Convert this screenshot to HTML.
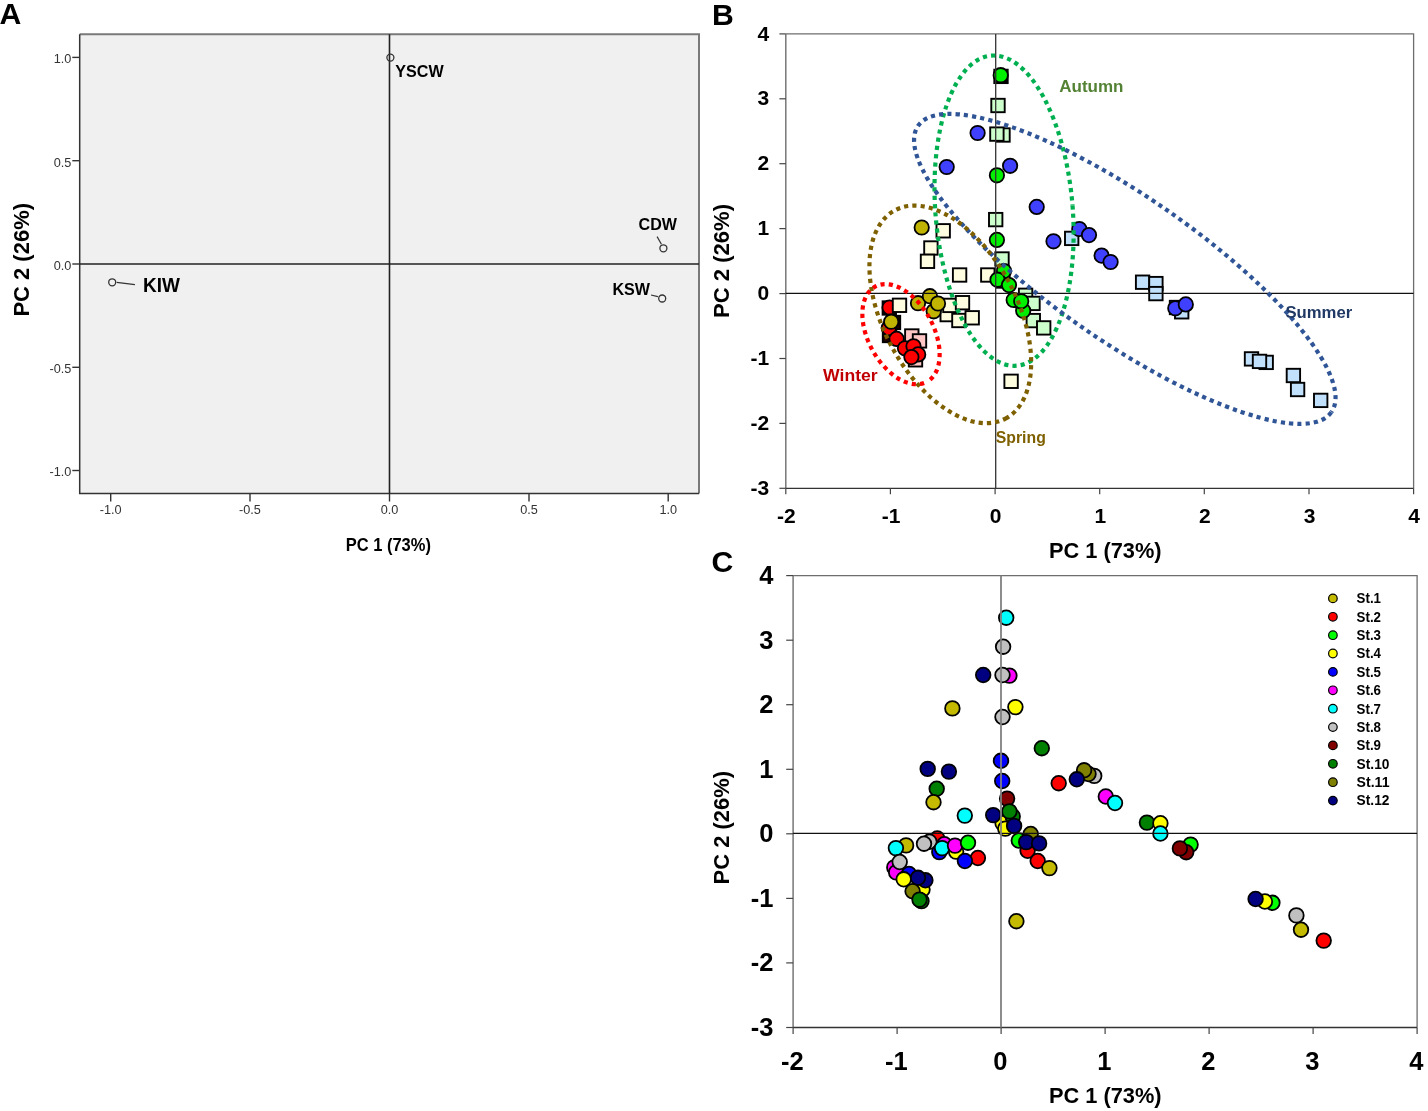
<!DOCTYPE html>
<html><head><meta charset="utf-8"><style>html,body{margin:0;padding:0;background:#fff;width:1428px;height:1111px;overflow:hidden;position:relative}</style></head><body>
<svg width="1428" height="1111" viewBox="0 0 1428 1111" style="position:absolute;left:0;top:0;font-family:'Liberation Sans', sans-serif;will-change:transform">
<rect x="0" y="0" width="1428" height="1111" fill="#fff"/>
<rect x="79.7" y="34.3" width="619.3" height="459.2" fill="#f0f0f0"/>
<path d="M79.7 34.3 H699.0 V493.5" fill="none" stroke="#7a7a7a" stroke-width="2"/>
<path d="M79.7 34.3 V493.5 H699.0" fill="none" stroke="#333" stroke-width="1.5"/>
<line x1="72.3" y1="57.4" x2="79.7" y2="57.4" stroke="#333" stroke-width="1.4"/>
<text x="71.4" y="63.199999999999996" font-size="12.7" font-weight="normal" fill="#333" text-anchor="end">1.0</text>
<line x1="72.3" y1="160.7" x2="79.7" y2="160.7" stroke="#333" stroke-width="1.4"/>
<text x="71.4" y="166.5" font-size="12.7" font-weight="normal" fill="#333" text-anchor="end">0.5</text>
<line x1="72.3" y1="264.0" x2="79.7" y2="264.0" stroke="#333" stroke-width="1.4"/>
<text x="71.4" y="269.8" font-size="12.7" font-weight="normal" fill="#333" text-anchor="end">0.0</text>
<line x1="72.3" y1="367.3" x2="79.7" y2="367.3" stroke="#333" stroke-width="1.4"/>
<text x="71.4" y="373.1" font-size="12.7" font-weight="normal" fill="#333" text-anchor="end">-0.5</text>
<line x1="72.3" y1="470.5" x2="79.7" y2="470.5" stroke="#333" stroke-width="1.4"/>
<text x="71.4" y="476.3" font-size="12.7" font-weight="normal" fill="#333" text-anchor="end">-1.0</text>
<line x1="110.7" y1="493.5" x2="110.7" y2="501.5" stroke="#333" stroke-width="1.4"/>
<text x="110.7" y="514.2" font-size="12.7" font-weight="normal" fill="#333" text-anchor="middle">-1.0</text>
<line x1="250.0" y1="493.5" x2="250.0" y2="501.5" stroke="#333" stroke-width="1.4"/>
<text x="250.0" y="514.2" font-size="12.7" font-weight="normal" fill="#333" text-anchor="middle">-0.5</text>
<line x1="389.5" y1="493.5" x2="389.5" y2="501.5" stroke="#333" stroke-width="1.4"/>
<text x="389.5" y="514.2" font-size="12.7" font-weight="normal" fill="#333" text-anchor="middle">0.0</text>
<line x1="529.0" y1="493.5" x2="529.0" y2="501.5" stroke="#333" stroke-width="1.4"/>
<text x="529.0" y="514.2" font-size="12.7" font-weight="normal" fill="#333" text-anchor="middle">0.5</text>
<line x1="668.2" y1="493.5" x2="668.2" y2="501.5" stroke="#333" stroke-width="1.4"/>
<text x="668.2" y="514.2" font-size="12.7" font-weight="normal" fill="#333" text-anchor="middle">1.0</text>
<line x1="79.7" y1="264.0" x2="699.0" y2="264.0" stroke="#222" stroke-width="1.6"/>
<line x1="389.5" y1="34.3" x2="389.5" y2="493.5" stroke="#222" stroke-width="1.6"/>
<line x1="657.1" y1="236.6" x2="661.4" y2="244.3" stroke="#333" stroke-width="1.2"/>
<line x1="651" y1="295" x2="657.9" y2="296.7" stroke="#333" stroke-width="1.2"/>
<line x1="116.7" y1="282.3" x2="134.9" y2="284.7" stroke="#333" stroke-width="1.2"/>
<circle cx="390.4" cy="57.6" r="3.5" fill="none" stroke="#333" stroke-width="1.3"/>
<circle cx="663.4" cy="248.3" r="3.5" fill="none" stroke="#333" stroke-width="1.3"/>
<circle cx="662.2" cy="298.5" r="3.5" fill="none" stroke="#333" stroke-width="1.3"/>
<circle cx="112.2" cy="282.3" r="3.5" fill="none" stroke="#333" stroke-width="1.3"/>
<text x="395.3" y="77.4" font-size="16.6" font-weight="bold" fill="#000" text-anchor="start" textLength="48.3" lengthAdjust="spacingAndGlyphs">YSCW</text>
<text x="638.6" y="229.7" font-size="16.6" font-weight="bold" fill="#000" text-anchor="start" textLength="38.4" lengthAdjust="spacingAndGlyphs">CDW</text>
<text x="612.4" y="294.7" font-size="16.6" font-weight="bold" fill="#000" text-anchor="start" textLength="37.6" lengthAdjust="spacingAndGlyphs">KSW</text>
<text x="143.0" y="291.8" font-size="19.5" font-weight="bold" fill="#000" text-anchor="start" textLength="36.9" lengthAdjust="spacingAndGlyphs">KIW</text>
<text x="345.7" y="550.6" font-size="17.5" font-weight="bold" fill="#000" text-anchor="start" textLength="85.2" lengthAdjust="spacingAndGlyphs">PC 1 (73%)</text>
<text x="0" y="0" font-size="22.5" font-weight="bold" textLength="113.6" lengthAdjust="spacingAndGlyphs" transform="translate(29.2 316.6) rotate(-90)">PC 2 (26%)</text>
<text x="-0.6" y="24.2" font-size="30.2" font-weight="bold" fill="#000" text-anchor="start">A</text>
<path d="M785.8 33.9 H1413.6 V488.3" fill="none" stroke="#6e6e6e" stroke-width="1.3"/>
<path d="M785.8 33.9 V488.3" fill="none" stroke="#777" stroke-width="1.5"/>
<line x1="785.8" y1="488.3" x2="1413.6" y2="488.3" stroke="#333" stroke-width="1.3"/>
<line x1="779.4" y1="33.9" x2="785.8" y2="33.9" stroke="#444" stroke-width="1.2"/>
<text x="769.2" y="40.5" font-size="21" font-weight="bold" fill="#000" text-anchor="end">4</text>
<line x1="779.4" y1="98.8" x2="785.8" y2="98.8" stroke="#444" stroke-width="1.2"/>
<text x="769.2" y="105.41428571428571" font-size="21" font-weight="bold" fill="#000" text-anchor="end">3</text>
<line x1="779.4" y1="163.7" x2="785.8" y2="163.7" stroke="#444" stroke-width="1.2"/>
<text x="769.2" y="170.32857142857145" font-size="21" font-weight="bold" fill="#000" text-anchor="end">2</text>
<line x1="779.4" y1="228.6" x2="785.8" y2="228.6" stroke="#444" stroke-width="1.2"/>
<text x="769.2" y="235.2428571428572" font-size="21" font-weight="bold" fill="#000" text-anchor="end">1</text>
<line x1="779.4" y1="293.6" x2="785.8" y2="293.6" stroke="#444" stroke-width="1.2"/>
<text x="769.2" y="300.1571428571429" font-size="21" font-weight="bold" fill="#000" text-anchor="end">0</text>
<line x1="779.4" y1="358.5" x2="785.8" y2="358.5" stroke="#444" stroke-width="1.2"/>
<text x="769.2" y="365.0714285714286" font-size="21" font-weight="bold" fill="#000" text-anchor="end">-1</text>
<line x1="779.4" y1="423.4" x2="785.8" y2="423.4" stroke="#444" stroke-width="1.2"/>
<text x="769.2" y="429.9857142857144" font-size="21" font-weight="bold" fill="#000" text-anchor="end">-2</text>
<line x1="779.4" y1="488.3" x2="785.8" y2="488.3" stroke="#444" stroke-width="1.2"/>
<text x="769.2" y="494.9000000000001" font-size="21" font-weight="bold" fill="#000" text-anchor="end">-3</text>
<line x1="785.8" y1="488.3" x2="785.8" y2="494.2" stroke="#444" stroke-width="1.2"/>
<text x="786.4" y="523.2" font-size="21" font-weight="bold" fill="#000" text-anchor="middle">-2</text>
<line x1="890.4" y1="488.3" x2="890.4" y2="494.2" stroke="#444" stroke-width="1.2"/>
<text x="891.0333333333333" y="523.2" font-size="21" font-weight="bold" fill="#000" text-anchor="middle">-1</text>
<line x1="995.1" y1="488.3" x2="995.1" y2="494.2" stroke="#444" stroke-width="1.2"/>
<text x="995.6666666666666" y="523.2" font-size="21" font-weight="bold" fill="#000" text-anchor="middle">0</text>
<line x1="1099.7" y1="488.3" x2="1099.7" y2="494.2" stroke="#444" stroke-width="1.2"/>
<text x="1100.2999999999997" y="523.2" font-size="21" font-weight="bold" fill="#000" text-anchor="middle">1</text>
<line x1="1204.3" y1="488.3" x2="1204.3" y2="494.2" stroke="#444" stroke-width="1.2"/>
<text x="1204.9333333333332" y="523.2" font-size="21" font-weight="bold" fill="#000" text-anchor="middle">2</text>
<line x1="1309.0" y1="488.3" x2="1309.0" y2="494.2" stroke="#444" stroke-width="1.2"/>
<text x="1309.5666666666666" y="523.2" font-size="21" font-weight="bold" fill="#000" text-anchor="middle">3</text>
<line x1="1413.6" y1="488.3" x2="1413.6" y2="494.2" stroke="#444" stroke-width="1.2"/>
<text x="1414.1999999999998" y="523.2" font-size="21" font-weight="bold" fill="#000" text-anchor="middle">4</text>
<rect x="882.6" y="301.3" width="13.4" height="13.4" fill="#200" stroke="#000" stroke-width="1.9"/>
<rect x="886.8" y="315.8" width="13.4" height="13.4" fill="#200" stroke="#000" stroke-width="1.9"/>
<rect x="882.8" y="328.8" width="13.4" height="13.4" fill="#200" stroke="#000" stroke-width="1.9"/>
<rect x="905.1" y="329.3" width="13.4" height="13.4" fill="#ffc6c6" stroke="#000" stroke-width="1.9"/>
<rect x="912.8" y="334.2" width="13.4" height="13.4" fill="#ffc6c6" stroke="#000" stroke-width="1.9"/>
<rect x="908.8" y="353.1" width="13.4" height="13.4" fill="#ffc6c6" stroke="#000" stroke-width="1.9"/>
<rect x="936.5" y="224.1" width="13.4" height="13.4" fill="#fffde0" stroke="#000" stroke-width="1.9"/>
<rect x="924.2" y="241.3" width="13.4" height="13.4" fill="#fffde0" stroke="#000" stroke-width="1.9"/>
<rect x="920.8" y="254.6" width="13.4" height="13.4" fill="#fffde0" stroke="#000" stroke-width="1.9"/>
<rect x="952.9" y="268.3" width="13.4" height="13.4" fill="#fffde0" stroke="#000" stroke-width="1.9"/>
<rect x="981.1" y="268.3" width="13.4" height="13.4" fill="#fffde0" stroke="#000" stroke-width="1.9"/>
<rect x="940.5" y="307.9" width="13.4" height="13.4" fill="#fffde0" stroke="#000" stroke-width="1.9"/>
<rect x="943.2" y="298.7" width="13.4" height="13.4" fill="#fffde0" stroke="#000" stroke-width="1.9"/>
<rect x="955.8" y="296.0" width="13.4" height="13.4" fill="#fffde0" stroke="#000" stroke-width="1.9"/>
<rect x="952.2" y="313.8" width="13.4" height="13.4" fill="#fffde0" stroke="#000" stroke-width="1.9"/>
<rect x="965.5" y="311.1" width="13.4" height="13.4" fill="#fffde0" stroke="#000" stroke-width="1.9"/>
<rect x="1004.4" y="374.6" width="13.4" height="13.4" fill="#fffde0" stroke="#000" stroke-width="1.9"/>
<rect x="994.3" y="69.7" width="13.4" height="13.4" fill="#000" stroke="#000" stroke-width="1.9"/>
<rect x="991.3" y="98.8" width="13.4" height="13.4" fill="#ccffcc" stroke="#000" stroke-width="1.9"/>
<rect x="996.3" y="128.3" width="13.4" height="13.4" fill="#ccffcc" stroke="#000" stroke-width="1.9"/>
<rect x="990.2" y="127.4" width="13.4" height="13.4" fill="#ccffcc" stroke="#000" stroke-width="1.9"/>
<rect x="989.0" y="212.9" width="13.4" height="13.4" fill="#ccffcc" stroke="#000" stroke-width="1.9"/>
<rect x="995.3" y="252.3" width="13.4" height="13.4" fill="#ccffcc" stroke="#000" stroke-width="1.9"/>
<rect x="996.3" y="274.3" width="13.4" height="13.4" fill="#ccffcc" stroke="#000" stroke-width="1.9"/>
<rect x="1018.9" y="288.6" width="13.4" height="13.4" fill="#ccffcc" stroke="#000" stroke-width="1.9"/>
<rect x="1026.3" y="296.7" width="13.4" height="13.4" fill="#ccffcc" stroke="#000" stroke-width="1.9"/>
<rect x="1026.6" y="313.9" width="13.4" height="13.4" fill="#ccffcc" stroke="#000" stroke-width="1.9"/>
<rect x="1037.0" y="321.2" width="13.4" height="13.4" fill="#ccffcc" stroke="#000" stroke-width="1.9"/>
<rect x="1065.0" y="231.7" width="13.4" height="13.4" fill="#c0e0fb" stroke="#000" stroke-width="1.9"/>
<rect x="1169.8" y="300.8" width="13.4" height="13.4" fill="#c0e0fb" stroke="#000" stroke-width="1.9"/>
<rect x="1135.9" y="275.5" width="13.4" height="13.4" fill="#c0e0fb" stroke="#000" stroke-width="1.9"/>
<rect x="1149.2" y="276.9" width="13.4" height="13.4" fill="#c0e0fb" stroke="#000" stroke-width="1.9"/>
<rect x="1149.2" y="286.9" width="13.4" height="13.4" fill="#c0e0fb" stroke="#000" stroke-width="1.9"/>
<rect x="1175.0" y="305.1" width="13.4" height="13.4" fill="#c0e0fb" stroke="#000" stroke-width="1.9"/>
<rect x="1244.8" y="352.2" width="13.4" height="13.4" fill="#c0e0fb" stroke="#000" stroke-width="1.9"/>
<rect x="1259.5" y="355.7" width="13.4" height="13.4" fill="#c0e0fb" stroke="#000" stroke-width="1.9"/>
<rect x="1252.8" y="354.7" width="13.4" height="13.4" fill="#c0e0fb" stroke="#000" stroke-width="1.9"/>
<rect x="1286.7" y="368.8" width="13.4" height="13.4" fill="#c0e0fb" stroke="#000" stroke-width="1.9"/>
<rect x="1290.9" y="382.8" width="13.4" height="13.4" fill="#c0e0fb" stroke="#000" stroke-width="1.9"/>
<rect x="1314.0" y="393.7" width="13.4" height="13.4" fill="#c0e0fb" stroke="#000" stroke-width="1.9"/>
<circle cx="889.6" cy="307.5" r="7.2" fill="#ff0000" stroke="#000" stroke-width="1.8"/>
<circle cx="888.8" cy="328.1" r="7.2" fill="#ff0000" stroke="#000" stroke-width="1.8"/>
<circle cx="891.2" cy="321.7" r="7.2" fill="#c0b400" stroke="#000" stroke-width="1.8"/>
<circle cx="896.6" cy="338.9" r="7.2" fill="#ff0000" stroke="#000" stroke-width="1.8"/>
<circle cx="905" cy="348.3" r="7.2" fill="#ff0000" stroke="#000" stroke-width="1.8"/>
<circle cx="913.5" cy="346.3" r="7.2" fill="#ff0000" stroke="#000" stroke-width="1.8"/>
<circle cx="918.2" cy="354.4" r="7.2" fill="#ff0000" stroke="#000" stroke-width="1.8"/>
<circle cx="911.4" cy="357.1" r="7.2" fill="#ff0000" stroke="#000" stroke-width="1.8"/>
<circle cx="921.7" cy="227.5" r="7.2" fill="#c0b400" stroke="#000" stroke-width="1.8"/>
<circle cx="918" cy="303.2" r="7.2" fill="#c0b400" stroke="#000" stroke-width="1.8"/>
<circle cx="929.9" cy="296.2" r="7.2" fill="#c0b400" stroke="#000" stroke-width="1.8"/>
<circle cx="933.7" cy="311.3" r="7.2" fill="#c0b400" stroke="#000" stroke-width="1.8"/>
<circle cx="938" cy="303.5" r="7.2" fill="#c0b400" stroke="#000" stroke-width="1.8"/>
<circle cx="1000.7" cy="75.2" r="7.2" fill="#00f000" stroke="#000" stroke-width="1.8"/>
<circle cx="996.9" cy="175.3" r="7.2" fill="#00f000" stroke="#000" stroke-width="1.8"/>
<circle cx="996.9" cy="239.9" r="7.2" fill="#00f000" stroke="#000" stroke-width="1.8"/>
<circle cx="1004" cy="271" r="7.2" fill="#00f000" stroke="#000" stroke-width="1.8"/>
<circle cx="997.5" cy="279.7" r="7.2" fill="#00f000" stroke="#000" stroke-width="1.8"/>
<circle cx="1009" cy="285.1" r="7.2" fill="#00f000" stroke="#000" stroke-width="1.8"/>
<circle cx="1013.7" cy="300" r="7.2" fill="#00f000" stroke="#000" stroke-width="1.8"/>
<circle cx="1023.2" cy="310.8" r="7.2" fill="#00f000" stroke="#000" stroke-width="1.8"/>
<circle cx="1021.2" cy="301.3" r="7.2" fill="#00f000" stroke="#000" stroke-width="1.8"/>
<circle cx="977.6" cy="133" r="7.2" fill="#4040ff" stroke="#000" stroke-width="1.8"/>
<circle cx="946.7" cy="167" r="7.2" fill="#4040ff" stroke="#000" stroke-width="1.8"/>
<circle cx="1010.1" cy="165.8" r="7.2" fill="#4040ff" stroke="#000" stroke-width="1.8"/>
<circle cx="1036.7" cy="206.9" r="7.2" fill="#4040ff" stroke="#000" stroke-width="1.8"/>
<circle cx="1053.5" cy="241.3" r="7.2" fill="#4040ff" stroke="#000" stroke-width="1.8"/>
<circle cx="1079.3" cy="229" r="7.2" fill="#4040ff" stroke="#000" stroke-width="1.8"/>
<circle cx="1089" cy="235.1" r="7.2" fill="#4040ff" stroke="#000" stroke-width="1.8"/>
<circle cx="1101.6" cy="255.6" r="7.2" fill="#4040ff" stroke="#000" stroke-width="1.8"/>
<circle cx="1110.6" cy="262" r="7.2" fill="#4040ff" stroke="#000" stroke-width="1.8"/>
<circle cx="1175.3" cy="308.3" r="7.2" fill="#4040ff" stroke="#000" stroke-width="1.8"/>
<circle cx="1185.8" cy="304.4" r="7.2" fill="#4040ff" stroke="#000" stroke-width="1.8"/>
<rect x="892.8" y="298.6" width="13.4" height="13.4" fill="#fffde0" stroke="#000" stroke-width="1.9"/>
<line x1="785.8" y1="293.3" x2="1413.6" y2="293.3" stroke="#111" stroke-width="1.3"/>
<line x1="995.7" y1="33.9" x2="995.7" y2="488.3" stroke="#333" stroke-width="1.3"/>
<ellipse cx="1004.07" cy="210.65" rx="68.63" ry="155.55" transform="rotate(-4.67 1004.07 210.65)" stroke="#00b050" stroke-dashoffset="7.9" stroke-width="4.2" stroke-dasharray="4.2 4.09" fill="none"/>
<ellipse cx="1124.8" cy="268.9" rx="251.4" ry="72.3" transform="rotate(34.7 1124.8 268.9)" stroke="#2f5597" stroke-dashoffset="7.9" stroke-width="4.2" stroke-dasharray="4.2 4.09" fill="none"/>
<ellipse cx="950.3" cy="314.4" rx="117.9" ry="66.9" transform="rotate(62.1 950.3 314.4)" stroke="#7f6000" stroke-dashoffset="1.45" stroke-width="4.2" stroke-dasharray="4.2 4.09" fill="none"/>
<ellipse cx="901.0" cy="334.2" rx="54.15" ry="32.7" transform="rotate(61.5 901.0 334.2)" stroke="#ff0000" stroke-dashoffset="5.2" stroke-width="4.2" stroke-dasharray="4.2 4.09" fill="none"/>
<text x="1059.3" y="92.0" font-size="17" font-weight="bold" fill="#548235" text-anchor="start" textLength="64.2" lengthAdjust="spacingAndGlyphs">Autumn</text>
<text x="1285.4" y="317.7" font-size="17" font-weight="bold" fill="#203864" text-anchor="start" textLength="66.8" lengthAdjust="spacingAndGlyphs">Summer</text>
<text x="823.1" y="381.1" font-size="17" font-weight="bold" fill="#c00000" text-anchor="start" textLength="54.6" lengthAdjust="spacingAndGlyphs">Winter</text>
<text x="995.8" y="442.7" font-size="17" font-weight="bold" fill="#7f6000" text-anchor="start" textLength="50.0" lengthAdjust="spacingAndGlyphs">Spring</text>
<text x="1049.0" y="558.4" font-size="22" font-weight="bold" fill="#000" text-anchor="start" textLength="112.6" lengthAdjust="spacingAndGlyphs">PC 1 (73%)</text>
<text x="0" y="0" font-size="22.5" font-weight="bold" textLength="114.0" lengthAdjust="spacingAndGlyphs" transform="translate(729.0 318.0) rotate(-90)">PC 2 (26%)</text>
<text x="712.0" y="24.6" font-size="30.2" font-weight="bold" fill="#000" text-anchor="start">B</text>
<path d="M793.1 575.6 H1417.1 V1027.5" fill="none" stroke="#6e6e6e" stroke-width="1.3"/>
<path d="M793.1 575.6 V1027.5" fill="none" stroke="#777" stroke-width="1.5"/>
<line x1="793.1" y1="1027.5" x2="1417.1" y2="1027.5" stroke="#333" stroke-width="1.3"/>
<line x1="786.2" y1="575.6" x2="793.1" y2="575.6" stroke="#444" stroke-width="1.2"/>
<text x="773.4" y="584.0" font-size="25.5" font-weight="bold" fill="#000" text-anchor="end">4</text>
<line x1="786.2" y1="640.2" x2="793.1" y2="640.2" stroke="#444" stroke-width="1.2"/>
<text x="773.4" y="648.5571428571428" font-size="25.5" font-weight="bold" fill="#000" text-anchor="end">3</text>
<line x1="786.2" y1="704.7" x2="793.1" y2="704.7" stroke="#444" stroke-width="1.2"/>
<text x="773.4" y="713.1142857142858" font-size="25.5" font-weight="bold" fill="#000" text-anchor="end">2</text>
<line x1="786.2" y1="769.3" x2="793.1" y2="769.3" stroke="#444" stroke-width="1.2"/>
<text x="773.4" y="777.6714285714286" font-size="25.5" font-weight="bold" fill="#000" text-anchor="end">1</text>
<line x1="786.2" y1="833.8" x2="793.1" y2="833.8" stroke="#444" stroke-width="1.2"/>
<text x="773.4" y="842.2285714285714" font-size="25.5" font-weight="bold" fill="#000" text-anchor="end">0</text>
<line x1="786.2" y1="898.4" x2="793.1" y2="898.4" stroke="#444" stroke-width="1.2"/>
<text x="773.4" y="906.7857142857142" font-size="25.5" font-weight="bold" fill="#000" text-anchor="end">-1</text>
<line x1="786.2" y1="962.9" x2="793.1" y2="962.9" stroke="#444" stroke-width="1.2"/>
<text x="773.4" y="971.342857142857" font-size="25.5" font-weight="bold" fill="#000" text-anchor="end">-2</text>
<line x1="786.2" y1="1027.5" x2="793.1" y2="1027.5" stroke="#444" stroke-width="1.2"/>
<text x="773.4" y="1035.9" font-size="25.5" font-weight="bold" fill="#000" text-anchor="end">-3</text>
<line x1="793.1" y1="1027.5" x2="793.1" y2="1033.9" stroke="#444" stroke-width="1.2"/>
<text x="792.3000000000001" y="1070.0" font-size="25.5" font-weight="bold" fill="#000" text-anchor="middle">-2</text>
<line x1="897.1" y1="1027.5" x2="897.1" y2="1033.9" stroke="#444" stroke-width="1.2"/>
<text x="896.3000000000001" y="1070.0" font-size="25.5" font-weight="bold" fill="#000" text-anchor="middle">-1</text>
<line x1="1001.1" y1="1027.5" x2="1001.1" y2="1033.9" stroke="#444" stroke-width="1.2"/>
<text x="1000.3000000000001" y="1070.0" font-size="25.5" font-weight="bold" fill="#000" text-anchor="middle">0</text>
<line x1="1105.1" y1="1027.5" x2="1105.1" y2="1033.9" stroke="#444" stroke-width="1.2"/>
<text x="1104.3" y="1070.0" font-size="25.5" font-weight="bold" fill="#000" text-anchor="middle">1</text>
<line x1="1209.1" y1="1027.5" x2="1209.1" y2="1033.9" stroke="#444" stroke-width="1.2"/>
<text x="1208.3" y="1070.0" font-size="25.5" font-weight="bold" fill="#000" text-anchor="middle">2</text>
<line x1="1313.1" y1="1027.5" x2="1313.1" y2="1033.9" stroke="#444" stroke-width="1.2"/>
<text x="1312.3" y="1070.0" font-size="25.5" font-weight="bold" fill="#000" text-anchor="middle">3</text>
<line x1="1417.1" y1="1027.5" x2="1417.1" y2="1033.9" stroke="#444" stroke-width="1.2"/>
<text x="1416.3" y="1070.0" font-size="25.5" font-weight="bold" fill="#000" text-anchor="middle">4</text>
<circle cx="1006.2" cy="617.7" r="7.3" fill="#00ffff" stroke="#000" stroke-width="1.8"/>
<circle cx="1003.1" cy="646.7" r="7.3" fill="#c0c0c0" stroke="#000" stroke-width="1.8"/>
<circle cx="983.2" cy="675" r="7.3" fill="#000080" stroke="#000" stroke-width="1.8"/>
<circle cx="1009.4" cy="675.6" r="7.3" fill="#ff00ff" stroke="#000" stroke-width="1.8"/>
<circle cx="1002.5" cy="675" r="7.3" fill="#c0c0c0" stroke="#000" stroke-width="1.8"/>
<circle cx="952.4" cy="708.4" r="7.3" fill="#c4bb00" stroke="#000" stroke-width="1.8"/>
<circle cx="1015.4" cy="707.1" r="7.3" fill="#ffff00" stroke="#000" stroke-width="1.8"/>
<circle cx="1002.5" cy="717" r="7.3" fill="#c0c0c0" stroke="#000" stroke-width="1.8"/>
<circle cx="927.7" cy="768.9" r="7.3" fill="#000080" stroke="#000" stroke-width="1.8"/>
<circle cx="948.9" cy="771.6" r="7.3" fill="#000080" stroke="#000" stroke-width="1.8"/>
<circle cx="936.7" cy="788.7" r="7.3" fill="#008000" stroke="#000" stroke-width="1.8"/>
<circle cx="933.5" cy="802.2" r="7.3" fill="#c4bb00" stroke="#000" stroke-width="1.8"/>
<circle cx="964.8" cy="815.6" r="7.3" fill="#00ffff" stroke="#000" stroke-width="1.8"/>
<circle cx="1001" cy="760.8" r="7.3" fill="#0000ff" stroke="#000" stroke-width="1.8"/>
<circle cx="1002.2" cy="781" r="7.3" fill="#0000ff" stroke="#000" stroke-width="1.8"/>
<circle cx="1007.1" cy="798.6" r="7.3" fill="#800000" stroke="#000" stroke-width="1.8"/>
<circle cx="1002.6" cy="823.2" r="7.3" fill="#ffff00" stroke="#000" stroke-width="1.8"/>
<circle cx="1005.3" cy="828.6" r="7.3" fill="#ffff00" stroke="#000" stroke-width="1.8"/>
<circle cx="993.2" cy="815.1" r="7.3" fill="#000080" stroke="#000" stroke-width="1.8"/>
<circle cx="1012.7" cy="816.4" r="7.3" fill="#008000" stroke="#000" stroke-width="1.8"/>
<circle cx="1009.4" cy="811.4" r="7.3" fill="#008000" stroke="#000" stroke-width="1.8"/>
<circle cx="1014.1" cy="825.9" r="7.3" fill="#000080" stroke="#000" stroke-width="1.8"/>
<circle cx="1030.7" cy="834" r="7.3" fill="#808000" stroke="#000" stroke-width="1.8"/>
<circle cx="1018.8" cy="840.5" r="7.3" fill="#00ff00" stroke="#000" stroke-width="1.8"/>
<circle cx="1027.6" cy="850.8" r="7.3" fill="#ff0000" stroke="#000" stroke-width="1.8"/>
<circle cx="1026.2" cy="842.1" r="7.3" fill="#000080" stroke="#000" stroke-width="1.8"/>
<circle cx="1039.1" cy="843.4" r="7.3" fill="#000080" stroke="#000" stroke-width="1.8"/>
<circle cx="1037.7" cy="861" r="7.3" fill="#ff0000" stroke="#000" stroke-width="1.8"/>
<circle cx="1049.4" cy="868.1" r="7.3" fill="#c4bb00" stroke="#000" stroke-width="1.8"/>
<circle cx="1041.8" cy="748.2" r="7.3" fill="#008000" stroke="#000" stroke-width="1.8"/>
<circle cx="1058.7" cy="783.2" r="7.3" fill="#ff0000" stroke="#000" stroke-width="1.8"/>
<circle cx="1094.2" cy="775.9" r="7.3" fill="#c0c0c0" stroke="#000" stroke-width="1.8"/>
<circle cx="1088.5" cy="774" r="7.3" fill="#808000" stroke="#000" stroke-width="1.8"/>
<circle cx="1084.1" cy="770.3" r="7.3" fill="#808000" stroke="#000" stroke-width="1.8"/>
<circle cx="1076.8" cy="779.3" r="7.3" fill="#000080" stroke="#000" stroke-width="1.8"/>
<circle cx="1105.8" cy="796.5" r="7.3" fill="#ff00ff" stroke="#000" stroke-width="1.8"/>
<circle cx="1115" cy="803" r="7.3" fill="#00ffff" stroke="#000" stroke-width="1.8"/>
<circle cx="1146.9" cy="822.6" r="7.3" fill="#008000" stroke="#000" stroke-width="1.8"/>
<circle cx="1160.4" cy="823.2" r="7.3" fill="#ffff00" stroke="#000" stroke-width="1.8"/>
<circle cx="1160.4" cy="833.5" r="7.3" fill="#00ffff" stroke="#000" stroke-width="1.8"/>
<circle cx="1190.6" cy="844.6" r="7.3" fill="#00ff00" stroke="#000" stroke-width="1.8"/>
<circle cx="1186.2" cy="852.2" r="7.3" fill="#800000" stroke="#000" stroke-width="1.8"/>
<circle cx="1179.9" cy="848.4" r="7.3" fill="#800000" stroke="#000" stroke-width="1.8"/>
<circle cx="1272.4" cy="902.8" r="7.3" fill="#00ff00" stroke="#000" stroke-width="1.8"/>
<circle cx="1264.9" cy="901.5" r="7.3" fill="#ffff00" stroke="#000" stroke-width="1.8"/>
<circle cx="1255.6" cy="899" r="7.3" fill="#000080" stroke="#000" stroke-width="1.8"/>
<circle cx="1296.4" cy="915.4" r="7.3" fill="#c0c0c0" stroke="#000" stroke-width="1.8"/>
<circle cx="1301" cy="929.7" r="7.3" fill="#c4bb00" stroke="#000" stroke-width="1.8"/>
<circle cx="1323.7" cy="940.6" r="7.3" fill="#ff0000" stroke="#000" stroke-width="1.8"/>
<circle cx="1016.4" cy="921.2" r="7.3" fill="#c4bb00" stroke="#000" stroke-width="1.8"/>
<circle cx="937.3" cy="838.5" r="7.3" fill="#ff0000" stroke="#000" stroke-width="1.8"/>
<circle cx="929.4" cy="841.7" r="7.3" fill="#c0c0c0" stroke="#000" stroke-width="1.8"/>
<circle cx="924" cy="843.7" r="7.3" fill="#c0c0c0" stroke="#000" stroke-width="1.8"/>
<circle cx="906.1" cy="845.4" r="7.3" fill="#c4bb00" stroke="#000" stroke-width="1.8"/>
<circle cx="895.9" cy="848.1" r="7.3" fill="#00ffff" stroke="#000" stroke-width="1.8"/>
<circle cx="939.3" cy="852.1" r="7.3" fill="#0000ff" stroke="#000" stroke-width="1.8"/>
<circle cx="944.3" cy="844.2" r="7.3" fill="#ff00ff" stroke="#000" stroke-width="1.8"/>
<circle cx="942.1" cy="848.1" r="7.3" fill="#00ffff" stroke="#000" stroke-width="1.8"/>
<circle cx="956.1" cy="851.6" r="7.3" fill="#ffff00" stroke="#000" stroke-width="1.8"/>
<circle cx="955" cy="845.6" r="7.3" fill="#ff00ff" stroke="#000" stroke-width="1.8"/>
<circle cx="968" cy="842.7" r="7.3" fill="#00ff00" stroke="#000" stroke-width="1.8"/>
<circle cx="977.9" cy="858" r="7.3" fill="#ff0000" stroke="#000" stroke-width="1.8"/>
<circle cx="964.9" cy="861" r="7.3" fill="#0000ff" stroke="#000" stroke-width="1.8"/>
<circle cx="894.3" cy="867.4" r="7.3" fill="#ff00ff" stroke="#000" stroke-width="1.8"/>
<circle cx="896.2" cy="872.4" r="7.3" fill="#ff00ff" stroke="#000" stroke-width="1.8"/>
<circle cx="899.7" cy="862" r="7.3" fill="#c0c0c0" stroke="#000" stroke-width="1.8"/>
<circle cx="909" cy="874" r="7.3" fill="#0000ff" stroke="#000" stroke-width="1.8"/>
<circle cx="903.7" cy="879.3" r="7.3" fill="#ffff00" stroke="#000" stroke-width="1.8"/>
<circle cx="922.5" cy="889.5" r="7.3" fill="#ffff00" stroke="#000" stroke-width="1.8"/>
<circle cx="925.4" cy="880.3" r="7.3" fill="#000080" stroke="#000" stroke-width="1.8"/>
<circle cx="918" cy="877.8" r="7.3" fill="#000080" stroke="#000" stroke-width="1.8"/>
<circle cx="912.6" cy="891.2" r="7.3" fill="#808000" stroke="#000" stroke-width="1.8"/>
<circle cx="921.5" cy="901.1" r="7.3" fill="#008000" stroke="#000" stroke-width="1.8"/>
<circle cx="919.5" cy="899.6" r="7.3" fill="#008000" stroke="#000" stroke-width="1.8"/>
<line x1="793.1" y1="833.4" x2="1417.1" y2="833.4" stroke="#111" stroke-width="1.3"/>
<line x1="1001.0" y1="575.6" x2="1001.0" y2="1027.5" stroke="#808080" stroke-width="1.8"/>
<circle cx="1332.9" cy="598.4" r="4.3" fill="#c4bb00" stroke="#000" stroke-width="1.2"/>
<text x="1356.6" y="603.3" font-size="14.2" font-weight="bold" fill="#000" text-anchor="start" textLength="24.4" lengthAdjust="spacingAndGlyphs">St.1</text>
<circle cx="1332.9" cy="616.8" r="4.3" fill="#ff0000" stroke="#000" stroke-width="1.2"/>
<text x="1356.6" y="621.68" font-size="14.2" font-weight="bold" fill="#000" text-anchor="start" textLength="24.4" lengthAdjust="spacingAndGlyphs">St.2</text>
<circle cx="1332.9" cy="635.2" r="4.3" fill="#00ff00" stroke="#000" stroke-width="1.2"/>
<text x="1356.6" y="640.06" font-size="14.2" font-weight="bold" fill="#000" text-anchor="start" textLength="24.4" lengthAdjust="spacingAndGlyphs">St.3</text>
<circle cx="1332.9" cy="653.5" r="4.3" fill="#ffff00" stroke="#000" stroke-width="1.2"/>
<text x="1356.6" y="658.4399999999999" font-size="14.2" font-weight="bold" fill="#000" text-anchor="start" textLength="24.4" lengthAdjust="spacingAndGlyphs">St.4</text>
<circle cx="1332.9" cy="671.9" r="4.3" fill="#0000ff" stroke="#000" stroke-width="1.2"/>
<text x="1356.6" y="676.8199999999999" font-size="14.2" font-weight="bold" fill="#000" text-anchor="start" textLength="24.4" lengthAdjust="spacingAndGlyphs">St.5</text>
<circle cx="1332.9" cy="690.3" r="4.3" fill="#ff00ff" stroke="#000" stroke-width="1.2"/>
<text x="1356.6" y="695.1999999999999" font-size="14.2" font-weight="bold" fill="#000" text-anchor="start" textLength="24.4" lengthAdjust="spacingAndGlyphs">St.6</text>
<circle cx="1332.9" cy="708.7" r="4.3" fill="#00ffff" stroke="#000" stroke-width="1.2"/>
<text x="1356.6" y="713.5799999999999" font-size="14.2" font-weight="bold" fill="#000" text-anchor="start" textLength="24.4" lengthAdjust="spacingAndGlyphs">St.7</text>
<circle cx="1332.9" cy="727.1" r="4.3" fill="#c0c0c0" stroke="#000" stroke-width="1.2"/>
<text x="1356.6" y="731.9599999999999" font-size="14.2" font-weight="bold" fill="#000" text-anchor="start" textLength="24.4" lengthAdjust="spacingAndGlyphs">St.8</text>
<circle cx="1332.9" cy="745.4" r="4.3" fill="#800000" stroke="#000" stroke-width="1.2"/>
<text x="1356.6" y="750.3399999999999" font-size="14.2" font-weight="bold" fill="#000" text-anchor="start" textLength="24.4" lengthAdjust="spacingAndGlyphs">St.9</text>
<circle cx="1332.9" cy="763.8" r="4.3" fill="#008000" stroke="#000" stroke-width="1.2"/>
<text x="1356.6" y="768.7199999999999" font-size="14.2" font-weight="bold" fill="#000" text-anchor="start" textLength="32.9" lengthAdjust="spacingAndGlyphs">St.10</text>
<circle cx="1332.9" cy="782.2" r="4.3" fill="#808000" stroke="#000" stroke-width="1.2"/>
<text x="1356.6" y="787.0999999999999" font-size="14.2" font-weight="bold" fill="#000" text-anchor="start" textLength="32.9" lengthAdjust="spacingAndGlyphs">St.11</text>
<circle cx="1332.9" cy="800.6" r="4.3" fill="#000080" stroke="#000" stroke-width="1.2"/>
<text x="1356.6" y="805.4799999999999" font-size="14.2" font-weight="bold" fill="#000" text-anchor="start" textLength="32.9" lengthAdjust="spacingAndGlyphs">St.12</text>
<text x="1049.0" y="1103.1" font-size="22" font-weight="bold" fill="#000" text-anchor="start" textLength="112.6" lengthAdjust="spacingAndGlyphs">PC 1 (73%)</text>
<text x="0" y="0" font-size="22.5" font-weight="bold" textLength="113.4" lengthAdjust="spacingAndGlyphs" transform="translate(729.0 884.4) rotate(-90)">PC 2 (26%)</text>
<text x="711.6" y="572.2" font-size="30.2" font-weight="bold" fill="#000" text-anchor="start">C</text>
</svg>
</body></html>
